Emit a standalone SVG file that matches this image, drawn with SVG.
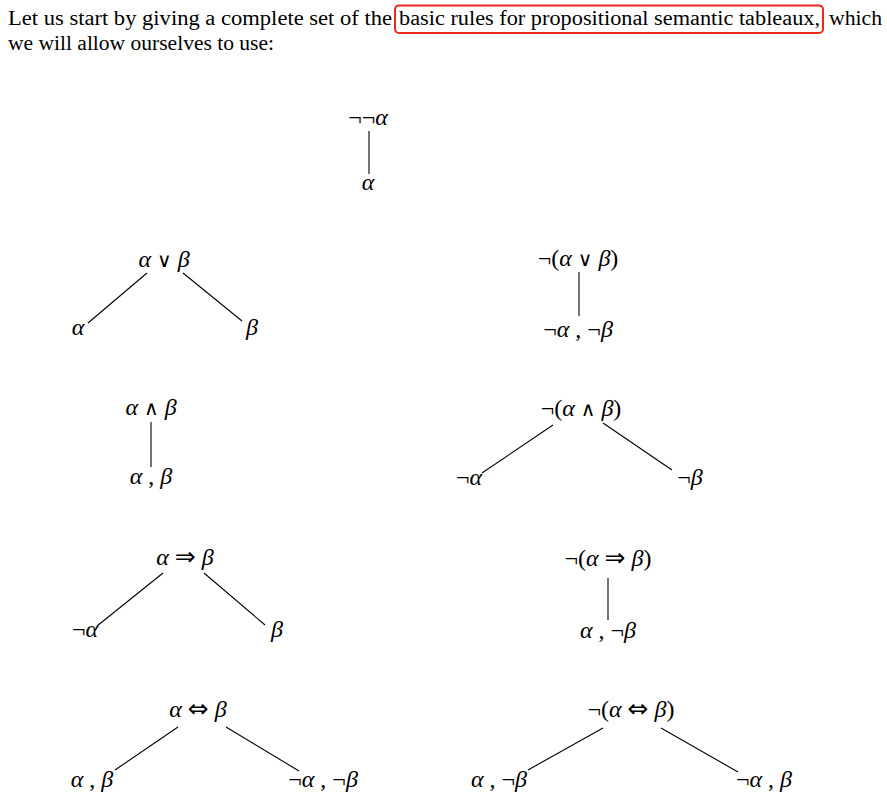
<svg xmlns="http://www.w3.org/2000/svg" width="887" height="807" viewBox="0 0 887 807">
<style>
.p{font-family:"Liberation Serif","Times New Roman",serif;font-size:20px;fill:#000}
.m{font-family:"Liberation Serif","DejaVu Serif",serif;font-size:24px;fill:#000;text-anchor:middle}
.g{font-style:italic}
.o{font-family:"DejaVu Sans",sans-serif;font-size:20px}
.a{font-family:"DejaVu Sans",sans-serif;font-size:25px}
.c line{stroke:#000;stroke-width:1.1}
</style>
<rect width="887" height="807" fill="#fff"/>
<g id="header">
<text class="p" x="8" y="25" textLength="384" lengthAdjust="spacingAndGlyphs">Let us start by giving a complete set of the</text>
<rect x="395" y="5.5" width="428" height="27.5" rx="4" fill="none" stroke="#e8291c" stroke-width="2"/>
<text class="p" x="399" y="25" textLength="421" lengthAdjust="spacingAndGlyphs">basic rules for propositional semantic tableaux,</text>
<text class="p" x="829" y="25" textLength="53" lengthAdjust="spacingAndGlyphs">which</text>
<text class="p" x="8" y="50" textLength="266" lengthAdjust="spacingAndGlyphs">we will allow ourselves to use:</text>
</g>
<g id="connectors" class="c">
<line x1="369" y1="131" x2="369" y2="174"/>
<line x1="147" y1="273" x2="88" y2="323"/>
<line x1="183" y1="273" x2="242" y2="321"/>
<line x1="579" y1="272" x2="579" y2="316"/>
<line x1="151" y1="422" x2="151" y2="467"/>
<line x1="553" y1="425" x2="482" y2="473"/>
<line x1="603" y1="423" x2="672" y2="470"/>
<line x1="163" y1="573" x2="97" y2="626"/>
<line x1="204" y1="573" x2="265" y2="625"/>
<line x1="608" y1="578" x2="608" y2="620"/>
<line x1="178" y1="727" x2="115" y2="770"/>
<line x1="226" y1="727" x2="299" y2="771"/>
<line x1="603" y1="728" x2="528" y2="770"/>
<line x1="661" y1="728" x2="738" y2="772"/>
</g>
<g id="n-notnot">
<text class="m" x="368" y="125">¬¬<tspan class="g">α</tspan></text>
<text class="m" x="368" y="190"><tspan class="g">α</tspan></text>
</g>
<g id="n-or">
<text class="m" x="164" y="267"><tspan class="g">α</tspan> <tspan class="o">∨</tspan> <tspan class="g">β</tspan></text>
<text class="m" x="78" y="335"><tspan class="g">α</tspan></text>
<text class="m" x="252" y="335"><tspan class="g">β</tspan></text>
</g>
<g id="n-notor">
<text class="m" x="578" y="266">¬(<tspan class="g">α</tspan> <tspan class="o">∨</tspan> <tspan class="g">β</tspan>)</text>
<text class="m" x="578" y="337">¬<tspan class="g">α</tspan> , ¬<tspan class="g">β</tspan></text>
</g>
<g id="n-and">
<text class="m" x="151" y="415"><tspan class="g">α</tspan> <tspan class="o">∧</tspan> <tspan class="g">β</tspan></text>
<text class="m" x="151" y="484"><tspan class="g">α</tspan> , <tspan class="g">β</tspan></text>
</g>
<g id="n-notand">
<text class="m" x="581" y="416">¬(<tspan class="g">α</tspan> <tspan class="o">∧</tspan> <tspan class="g">β</tspan>)</text>
<text class="m" x="469" y="485">¬<tspan class="g">α</tspan></text>
<text class="m" x="690" y="485">¬<tspan class="g">β</tspan></text>
</g>
<g id="n-imp">
<text class="m" x="185" y="565"><tspan class="g">α</tspan> <tspan class="a">⇒</tspan> <tspan class="g">β</tspan></text>
<text class="m" x="85" y="637">¬<tspan class="g">α</tspan></text>
<text class="m" x="277" y="637"><tspan class="g">β</tspan></text>
</g>
<g id="n-notimp">
<text class="m" x="608" y="566">¬(<tspan class="g">α</tspan> <tspan class="a">⇒</tspan> <tspan class="g">β</tspan>)</text>
<text class="m" x="608" y="638"><tspan class="g">α</tspan> , ¬<tspan class="g">β</tspan></text>
</g>
<g id="n-iff">
<text class="m" x="198" y="717"><tspan class="g">α</tspan> <tspan class="a">⇔</tspan> <tspan class="g">β</tspan></text>
<text class="m" x="92" y="787"><tspan class="g">α</tspan> , <tspan class="g">β</tspan></text>
<text class="m" x="323" y="787">¬<tspan class="g">α</tspan> , ¬<tspan class="g">β</tspan></text>
</g>
<g id="n-notiff">
<text class="m" x="631" y="717">¬(<tspan class="g">α</tspan> <tspan class="a">⇔</tspan> <tspan class="g">β</tspan>)</text>
<text class="m" x="499" y="787"><tspan class="g">α</tspan> , ¬<tspan class="g">β</tspan></text>
<text class="m" x="764" y="787">¬<tspan class="g">α</tspan> , <tspan class="g">β</tspan></text>
</g>
</svg>
